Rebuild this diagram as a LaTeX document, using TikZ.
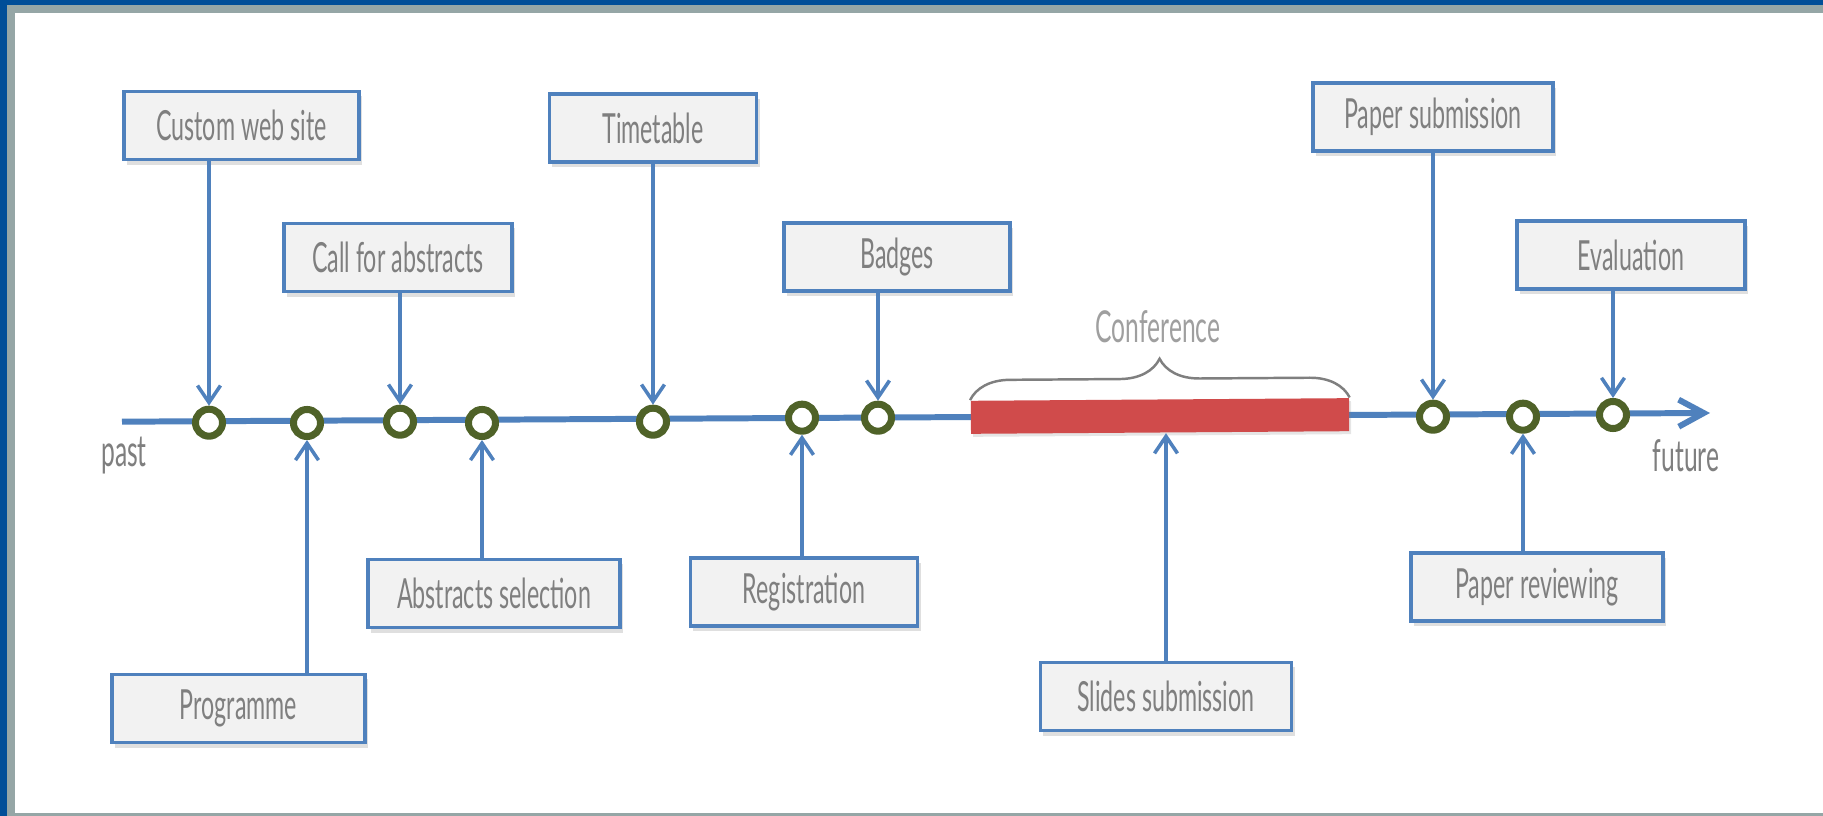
\documentclass[tikz,border=0pt]{standalone}
\usepackage{fontspec}
\setmainfont[FakeStretch=0.56]{Lato}
\usetikzlibrary{calc,positioning,shadows,arrows.meta,decorations.pathreplacing}

\definecolor{frameblue}{RGB}{0,78,152}
\definecolor{framegrey}{RGB}{149,166,166}
\definecolor{lineblue}{RGB}{79,129,189}
\definecolor{boxfill}{RGB}{242,242,242}
\definecolor{textgrey}{RGB}{127,127,127}
\definecolor{tickgreen}{RGB}{79,98,40}
\definecolor{confred}{RGB}{208,75,75}

\begin{document}
\begin{tikzpicture}[x=0.01cm,y=-0.01cm,
  event/.style={draw=lineblue,line width=1.05pt,fill=boxfill,text=textgrey,minimum height=0.68cm,inner sep=0pt,
    font=\fontsize{11.8}{13}\selectfont,drop shadow={shadow xshift=0.03cm,shadow yshift=-0.05cm,opacity=0.25}},
  tick/.style={circle,draw=tickgreen,line width=2pt,fill=white,minimum size=0.27cm,inner sep=0pt},
  pointer/.style={draw=lineblue,line width=1pt,-{Straight Barb[length=0.17cm,width=0.23cm]}},
  note/.style={text=textgrey,font=\fontsize{12.5}{14}\selectfont}]
\fill[white] (0,0) rectangle (1823,816);
\fill[frameblue] (0,0) rectangle (1823,5);
\fill[frameblue] (0,0) rectangle (6.7,816);
\fill[framegrey] (6.7,5) rectangle (1823,12.7);
\fill[framegrey] (6.7,5) rectangle (15,816);
\fill[framegrey] (15,813) rectangle (1823,816);

\coordinate (start) at (122,421.7);
\coordinate (end) at (1710,413);
\draw[lineblue,line width=1.7pt,-{Straight Barb[length=0.25cm,width=0.27cm]}] (start) -- (end);
\node (past) [note] at (124,456) {past};
\node (future) [note] at (1686,456) {future};

\node (conf) [fill=confred,minimum width=3.78cm,minimum height=0.33cm,inner sep=0pt,rotate=0.4,
  drop shadow={shadow xshift=0.02cm,shadow yshift=-0.03cm,opacity=0.2}] at (1160,416) {};
\draw[textgrey,line width=0.7pt,decorate,decoration={brace,amplitude=0.4cm}] (conf.north west) -- (conf.north east);
\node (conflabel) [note,text=textgrey!75] at (1158,327) {Conference};

\node (t1) [tick] at (209,422.7) {};
\node (t2) [tick] at (307,423) {};
\node (t3) [tick] at (400,421.7) {};
\node (t4) [tick] at (482,423) {};
\node (t5) [tick] at (653,421.7) {};
\node (t6) [tick] at (802,417.7) {};
\node (t7) [tick] at (878,417.7) {};
\node (t8) [tick] at (1433,416.7) {};
\node (t9) [tick] at (1523,416.7) {};
\node (t10) [tick] at (1613,415) {};

\node (web) [event,minimum width=2.35cm] at (241.5,125.5) {Custom web site};
\node (call) [event,minimum width=2.28cm] at (398,257.5) {Call for abstracts};
\node (table) [event,minimum width=2.07cm] at (653,128) {Timetable};
\node (badges) [event,minimum width=2.26cm] at (897,257) {Badges};
\node (papsub) [event,minimum width=2.40cm] at (1433,117) {Paper submission};
\node (eval) [event,minimum width=2.28cm] at (1631,255) {Evaluation};
\node (prog) [event,minimum width=2.53cm] at (238.5,708.5) {Programme};
\node (select) [event,minimum width=2.52cm] at (494,593.5) {Abstracts selection};
\node (reg) [event,minimum width=2.27cm] at (804,592) {Registration};
\node (slides) [event,minimum width=2.51cm] at (1166,696.5) {Slides submission};
\node (review) [event,minimum width=2.52cm] at (1537,587) {Paper reviewing};

\draw[pointer] (web.south -| t1) -- (t1.north);
\draw[pointer] (call.south -| t3) -- (t3.north);
\draw[pointer] (table.south -| t5) -- (t5.north);
\draw[pointer] (badges.south -| t7) -- (t7.north);
\draw[pointer] (papsub.south -| t8) -- (t8.north);
\draw[pointer] (eval.south -| t10) -- (t10.north);
\draw[pointer] (prog.north -| t2) -- (t2.south);
\draw[pointer] (select.north -| t4) -- (t4.south);
\draw[pointer] (reg.north -| t6) -- (t6.south);
\draw[pointer] (slides.north) -- (slides.north |- conf.south);
\draw[pointer] (review.north -| t9) -- (t9.south);
\end{tikzpicture}
\end{document}
